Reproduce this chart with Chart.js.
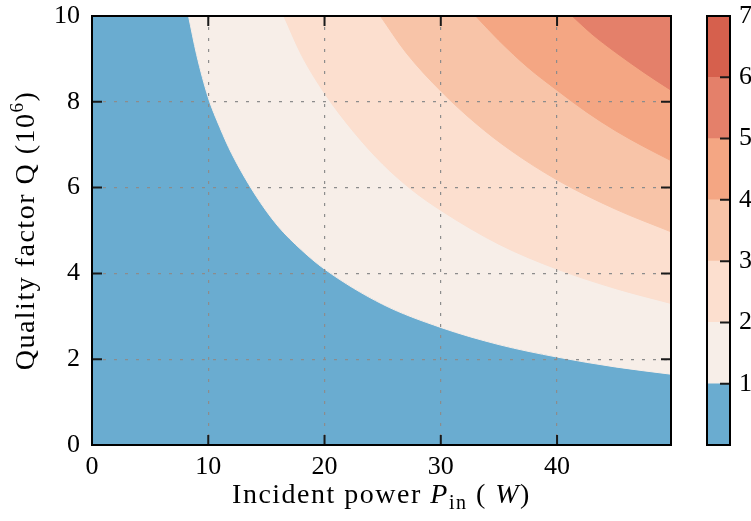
<!DOCTYPE html>
<html>
<head>
<meta charset="utf-8">
<script src="https://cdn.jsdelivr.net/npm/chart.js@4.4.0/dist/chart.umd.min.js"></script>
<style>
  html, body { margin: 0; padding: 0; background: #fff; }
  #wrap { position: relative; width: 751px; height: 521px; overflow: hidden; }
  #main { position: absolute; left: 0; top: 0; }
  #cbar { position: absolute; left: 690px; top: 0; }
</style>
</head>
<body>
<div id="wrap">
  <canvas id="main" width="700" height="521"></canvas>
  <canvas id="cbar" width="100" height="521"></canvas>
</div>
<script>
// Contour boundaries: incident power P (W) vs Q (10^6)
const level1P = [8.3, 9, 10, 11, 12, 14, 16, 18, 20, 25, 30, 35, 40, 45, 49.8];
const level1Q = [10, 9.1, 8.1, 7.4, 6.8, 5.85, 5.1, 4.55, 4.1, 3.28, 2.74, 2.34, 2.05, 1.82, 1.65];
const level2P = [16.5, 18, 20, 22.5, 25, 27.5, 30, 35, 40, 45, 49.8];
const level2Q = [10, 9.1, 8.2, 7.3, 6.55, 5.95, 5.47, 4.68, 4.1, 3.65, 3.3];
const level3P = [24.8, 27, 30, 33, 36, 40, 45, 49.8];
const level3Q = [10, 9.15, 8.25, 7.5, 6.87, 6.18, 5.5, 4.97];
const level4P = [33, 35, 37.5, 40, 42.5, 45, 47.5, 49.8];
const level4Q = [10, 9.43, 8.8, 8.27, 7.77, 7.33, 6.95, 6.63];
const level5P = [41.3, 43, 45, 47.5, 49.8];
const level5Q = [10, 9.58, 9.16, 8.68, 8.27];

// Tick labels
const xTicks = [0, 10, 20, 30, 40];
const yTicks = [0, 2, 4, 6, 8, 10];
const cbarLevels = [0, 1, 2, 3, 4, 5, 6, 7];
const cbarTicks = [1, 2, 3, 4, 5, 6, 7];

// Fill colours, lowest band first
const levelColors = ['#6aacd0', '#f7eee8', '#fcdfcf', '#f8c4a8', '#f4a683', '#e4806a', '#d6604d'];

const family = '"Liberation Serif", "DejaVu Serif", serif';
const tickFont = { family: family, size: 26 };

const boundaries = [
    { p: level1P, q: level1Q },
    { p: level2P, q: level2Q },
    { p: level3P, q: level3Q },
    { p: level4P, q: level4Q },
    { p: level5P, q: level5Q }
];

// Each boundary fills everything above it; higher levels paint over lower ones
const datasets = boundaries.map((b, i) => ({
    data: b.p.map((p, j) => ({ x: p, y: b.q[j] })),
    fill: 'end',
    backgroundColor: levelColors[i + 1],
    borderColor: levelColors[i + 1],
    borderWidth: 1,
    pointRadius: 0,
    cubicInterpolationMode: 'monotone',
    order: boundaries.length - i
}));

// Draw a run of text pieces (mixed italic / sub / superscript) centred on cx
function drawPieces(ctx, pieces, cx, baseY) {
    let total = 0;
    pieces.forEach(pc => {
        ctx.font = pc.font;
        pc.w = ctx.measureText(pc.t).width;
        total += pc.w;
    });
    let x = cx - total / 2;
    pieces.forEach(pc => {
        ctx.font = pc.font;
        ctx.fillText(pc.t, x, baseY + (pc.dy || 0));
        x += pc.w;
    });
}

// keep the plot box where it is, whatever the label sizes
const noPad = s => { s.paddingTop = 0; s.paddingBottom = 0; s.paddingLeft = 0; s.paddingRight = 0; };

const mainDecor = {
    id: 'mainDecor',
    beforeDatasetsDraw(chart) {
        const { ctx, chartArea: a } = chart;
        ctx.save();
        ctx.fillStyle = levelColors[0];
        ctx.fillRect(a.left, a.top, a.right - a.left, a.bottom - a.top);
        ctx.restore();
    },
    afterDraw(chart) {
        const { ctx, chartArea: a, scales: { x, y } } = chart;
        ctx.save();
        // inward tick marks on all four sides
        ctx.strokeStyle = '#1a1a1a';
        ctx.lineWidth = 2;
        ctx.beginPath();
        x.ticks.forEach(t => {
            const px = x.getPixelForValue(t.value);
            ctx.moveTo(px, a.bottom); ctx.lineTo(px, a.bottom - 10);
            ctx.moveTo(px, a.top); ctx.lineTo(px, a.top + 10);
        });
        y.ticks.forEach(t => {
            const py = y.getPixelForValue(t.value);
            ctx.moveTo(a.left, py); ctx.lineTo(a.left + 10, py);
            ctx.moveTo(a.right, py); ctx.lineTo(a.right - 10, py);
        });
        ctx.stroke();
        ctx.strokeStyle = '#000';
        ctx.strokeRect(a.left, a.top, a.right - a.left, a.bottom - a.top);

        // axis titles
        ctx.fillStyle = '#000';
        ctx.textBaseline = 'alphabetic';
        ctx.letterSpacing = '1.5px';
        drawPieces(ctx, [
            { t: 'Incident power ', font: `28px ${family}` },
            { t: 'P', font: `italic 28px ${family}` },
            { t: 'in', font: `20px ${family}`, dy: 6 },
            { t: ' ( ', font: `28px ${family}` },
            { t: 'W', font: `italic 28px ${family}` },
            { t: ')', font: `28px ${family}` }
        ], (a.left + a.right) / 2, 503);

        ctx.translate(34, (a.top + a.bottom) / 2);
        ctx.rotate(-Math.PI / 2);
        drawPieces(ctx, [
            { t: 'Quality factor Q (10', font: `28px ${family}` },
            { t: '6', font: `19px ${family}`, dy: -11 },
            { t: ')', font: `28px ${family}` }
        ], 0, 0);
        ctx.restore();
    }
};

const gridOpts = { color: '#8c8c8c', lineWidth: 1.2, drawTicks: false, z: 1 };

new Chart(document.getElementById('main'), {
    type: 'line',
    data: { datasets: datasets },
    options: {
        responsive: false,
        animation: false,
        layout: { padding: { left: 0, top: 16, right: 29, bottom: 0 } },
        plugins: { legend: { display: false }, tooltip: { enabled: false } },
        scales: {
            x: {
                type: 'linear',
                min: 0,
                max: 49.8,
                afterBuildTicks: s => { s.ticks = xTicks.map(v => ({ value: v })); },
                afterFit: s => { s.height = 76; noPad(s); },
                ticks: { font: tickFont, color: '#000', padding: 7, maxRotation: 0 },
                grid: gridOpts,
                border: { display: false, dash: [3, 8] }
            },
            y: {
                type: 'linear',
                min: 0,
                max: 10,
                afterBuildTicks: s => { s.ticks = yTicks.map(v => ({ value: v })); },
                afterFit: s => { s.width = 92; noPad(s); },
                ticks: { font: tickFont, color: '#000', padding: 12 },
                grid: gridOpts,
                border: { display: false, dash: [3, 8] }
            }
        }
    },
    plugins: [mainDecor]
});

// Colour bar
const cbarDecor = {
    id: 'cbarDecor',
    afterDraw(chart) {
        const { ctx, chartArea: a, scales: { y } } = chart;
        ctx.save();
        ctx.strokeStyle = '#1a1a1a';
        ctx.lineWidth = 2;
        ctx.beginPath();
        cbarTicks.slice(0, -1).forEach(v => {
            const py = y.getPixelForValue(v);
            ctx.moveTo(a.right, py); ctx.lineTo(a.right - 10, py);
        });
        ctx.stroke();
        ctx.strokeStyle = '#000';
        ctx.strokeRect(a.left, a.top, a.right - a.left, a.bottom - a.top);
        ctx.restore();
    }
};

new Chart(document.getElementById('cbar'), {
    type: 'bar',
    data: {
        labels: [''],
        datasets: levelColors.map((c, i) => ({
            data: [[cbarLevels[i], cbarLevels[i + 1]]],
            backgroundColor: c,
            borderWidth: 0,
            grouped: false,
            barPercentage: 1,
            categoryPercentage: 1
        }))
    },
    options: {
        responsive: false,
        animation: false,
        layout: { padding: { left: 17, top: 16, right: 0, bottom: 76 } },
        plugins: { legend: { display: false }, tooltip: { enabled: false } },
        scales: {
            x: { display: false },
            y: {
                position: 'right',
                min: 0,
                max: 7,
                afterBuildTicks: s => { s.ticks = cbarTicks.map(v => ({ value: v })); },
                afterFit: s => { s.width = 60; noPad(s); },
                ticks: { font: tickFont, color: '#000', padding: 9 },
                grid: { display: false, drawTicks: false },
                border: { display: false }
            }
        }
    },
    plugins: [cbarDecor]
});
</script>
</body>
</html>
